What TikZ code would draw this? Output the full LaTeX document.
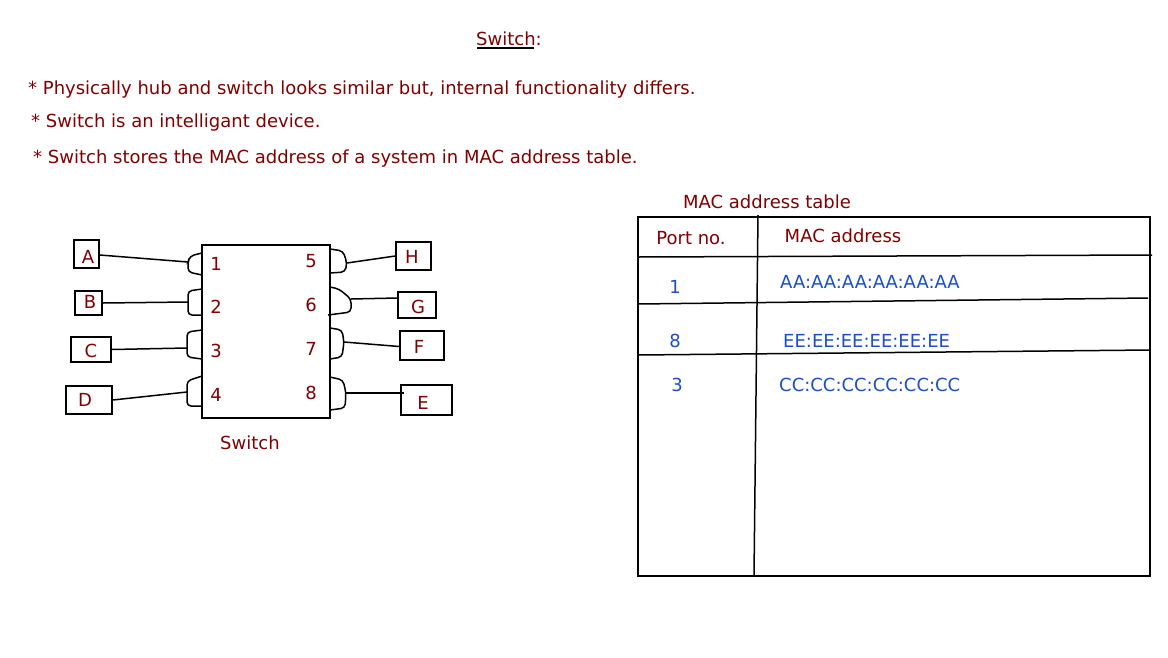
\documentclass[tikz,border=0pt]{standalone}
\usepackage{fontspec}
\setmainfont{DejaVu Sans}
\definecolor{dred}{HTML}{800000}
\definecolor{mblue}{HTML}{1A4FC8}
\begin{document}
\begin{tikzpicture}[x=1pt,y=-1pt,
  txt/.style={text=dred,font=\fontsize{18}{20}\selectfont,inner sep=0pt,yshift=-2pt},
  btxt/.style={text=mblue,font=\fontsize{18}{20}\selectfont,inner sep=0pt,yshift=-2pt},
  dev/.style={draw,line width=1.5pt,inner sep=0pt},
  ln/.style={line width=1.5pt},
  br/.style={line width=1.5pt,rounded corners=4pt}]
\useasboundingbox (0,0) rectangle (1168,657);
% title
\node[txt] (title) at (509,37) {Switch:};
\draw[line width=2pt] (477,47.5) -- (534,47.5);
\node[txt,anchor=west] (b1) at (28,88) {* Physically hub and switch looks similar but, internal functionality differs.};
\node[txt,anchor=west] (b2) at (31,121) {* Switch is an intelligant device.};
\node[txt,anchor=west] (b3) at (33,157) {* Switch stores the MAC address of a system in MAC address table.};
% switch
\node[dev,minimum width=128pt,minimum height=173pt] (sw) at (266,331.5) {};
\node[txt] (p1) at (216,262) {1};
\node[txt] (p2) at (216,305) {2};
\node[txt] (p3) at (216,349) {3};
\node[txt] (p4) at (216,393) {4};
\node[txt] (p5) at (311,259) {5};
\node[txt] (p6) at (311,303) {6};
\node[txt] (p7) at (311,347) {7};
\node[txt] (p8) at (311,391) {8};
\node[txt] (swl) at (250,441) {Switch};
% brackets left
\coordinate (l1) at (188,262);
\coordinate (l2) at (188,302);
\coordinate (l3) at (187,348);
\coordinate (l4) at (187,392);
\draw[br] (202,253) -- (190,256) -- (188,262) -- (188,272) -- (202,275);
\draw[br] (202,289) -- (188,291) -- (188,315) -- (202,315);
\draw[br] (202,330) -- (187,332) -- (187,357) -- (202,359);
\draw[br] (202,376) -- (187,381) -- (187,406) -- (202,406);
% brackets right
\coordinate (r5) at (347,263);
\coordinate (r6) at (351,299);
\coordinate (r7) at (344,342);
\coordinate (r8) at (346,393);
\draw[br] (330,249) -- (343,251) -- (347,263) -- (345,272) -- (330,273);
\draw[br] (330,287) -- (339,289) -- (351,299) -- (351,312) -- (328,315);
\draw[br] (330,328) -- (342,330) -- (344,342) -- (342,357) -- (330,359);
\draw[br] (330,377) -- (343,380) -- (346,393) -- (345,408) -- (330,410);
% devices
\node[dev,minimum width=25pt,minimum height=28pt] (A) at (86.5,254) {};
\node[txt] at (88,255) {A};
\node[dev,minimum width=27pt,minimum height=24pt] (B) at (88.5,303) {};
\node[txt] at (90,300) {B};
\node[dev,minimum width=40pt,minimum height=25pt] (C) at (91,349.5) {};
\node[txt] at (91,349) {C};
\node[dev,minimum width=46pt,minimum height=28pt] (D) at (89,400) {};
\node[txt] at (85,398) {D};
\node[dev,minimum width=35pt,minimum height=28pt] (H) at (413.5,256) {};
\node[txt] at (412,255) {H};
\node[dev,minimum width=38pt,minimum height=26pt] (G) at (417,305) {};
\node[txt] at (418,305) {G};
\node[dev,minimum width=44pt,minimum height=29pt] (F) at (422,345.5) {};
\node[txt] at (419,345) {F};
\node[dev,minimum width=51pt,minimum height=30pt] (E) at (426.5,400) {};
\node[txt] at (423,401) {E};
% connectors
\draw[ln] ([yshift=-1pt]A.east) -- (l1);
\draw[ln] (B.east) -- (l2);
\draw[ln] (C.east) -- (l3);
\draw[ln] (D.east) -- (l4);
\draw[ln] (r5) -- (H.west);
\draw[ln] (r6) -- ([yshift=7pt]G.west);
\draw[ln] (r7) -- ([yshift=-1pt]F.west);
\draw[ln] (r8) -- ([xshift=4pt,yshift=7pt]E.west);
% table
\node[txt] (tt) at (767,200) {MAC address table};
\draw[ln] (638,217) rectangle (1150,576);
\draw[ln] (758,215) -- (754,576);
\draw[ln] (638,257) -- (1152,255);
\draw[ln] (638,304) -- (1148,298);
\draw[ln] (638,355) -- (1150,350);
\node[txt] (h1) at (691,236) {Port no.};
\node[txt] (h2) at (843,234) {MAC address};
\node[btxt] (c1) at (675,285) {1};
\node[btxt,anchor=west] (m1) at (780,280) {AA:AA:AA:AA:AA:AA};
\node[btxt] (c2) at (675,339) {8};
\node[btxt,anchor=west] (m2) at (783,339) {EE:EE:EE:EE:EE:EE};
\node[btxt] (c3) at (677,383) {3};
\node[btxt,anchor=west] (m3) at (779,383) {CC:CC:CC:CC:CC:CC};
\end{tikzpicture}
\end{document}
